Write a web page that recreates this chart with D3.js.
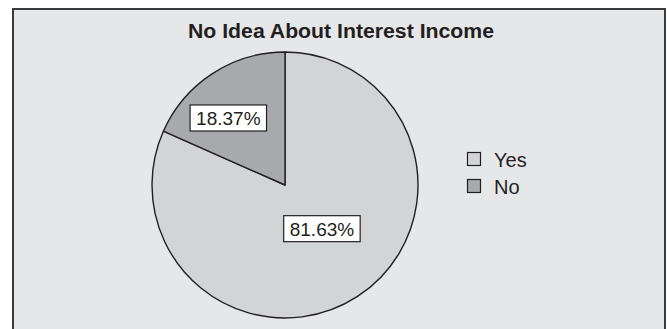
<!DOCTYPE html>
<html>
<head>
<meta charset="utf-8">
<script src="https://cdn.jsdelivr.net/npm/d3@7"></script>
<style>
  html, body { margin: 0; padding: 0; background: #ffffff; }
  svg { display: block; }
</style>
</head>
<body>
<svg id="chart" width="667" height="329"></svg>
<script>
// Survey answers
const categories = ["Yes", "No"];
const shares = [81.63, 18.37];
const sliceColors = ["#d3d4d6", "#a8a9ac"];
const chartTitle = "No Idea About Interest Income";

const W = 667, H = 329;
const svg = d3.select("#chart");

// Panel frame
svg.append("rect")
  .attr("x", 13).attr("y", 9)
  .attr("width", 652).attr("height", 330)
  .attr("fill", "#e6e7e9")
  .attr("stroke", "#3a3a3a")
  .attr("stroke-width", 2);

// Title
svg.append("text")
  .attr("x", 341).attr("y", 38)
  .attr("text-anchor", "middle")
  .attr("font-family", "Liberation Sans, Arial, sans-serif")
  .attr("font-weight", "bold")
  .attr("font-size", 20)
  .attr("textLength", 306)
  .attr("lengthAdjust", "spacingAndGlyphs")
  .attr("fill", "#231f20")
  .text(chartTitle);

// Pie
const cx = 285, cy = 185, R = 133;
const data = categories.map((c, i) => ({ cat: c, value: shares[i], color: sliceColors[i] }));
const pie = d3.pie().sort(null).value(d => d.value);
const arcs = pie(data);
const arc = d3.arc().innerRadius(0).outerRadius(R);

const g = svg.append("g").attr("transform", `translate(${cx},${cy})`);
g.selectAll("path.slice")
  .data(arcs)
  .join("path")
  .attr("class", "slice")
  .attr("d", arc)
  .attr("fill", d => d.data.color)
  .attr("stroke", "#231f20")
  .attr("stroke-width", 1.4)
  .attr("stroke-linejoin", "round");

// Value labels inside the slices, each in a white box
const labelRadius = [0.43, 0.66];
const labelTurn = -0.125;
const fmt = v => v.toFixed(2) + "%";
const labels = g.selectAll("g.lbl")
  .data(arcs)
  .join("g")
  .attr("class", "lbl")
  .attr("transform", (d, i) => {
    const a = (d.startAngle + d.endAngle) / 2 + labelTurn;
    const r = R * labelRadius[i];
    return `translate(${r * Math.sin(a)},${-r * Math.cos(a)})`;
  });

labels.each(function (d) {
  const sel = d3.select(this);
  const t = sel.append("text")
    .attr("text-anchor", "middle")
    .attr("dy", "0.36em")
    .attr("font-family", "Liberation Sans, Arial, sans-serif")
    .attr("font-size", 19)
    .attr("fill", "#231f20")
    .text(fmt(d.data.value));
  const w = t.node().getComputedTextLength();
  sel.insert("rect", "text")
    .attr("x", -w / 2 - 6).attr("y", -13)
    .attr("width", w + 12).attr("height", 26)
    .attr("fill", "#ffffff")
    .attr("stroke", "#231f20")
    .attr("stroke-width", 1.2);
});

// Legend
const legend = svg.append("g").attr("transform", "translate(467,152)");
const item = legend.selectAll("g")
  .data(data)
  .join("g")
  .attr("transform", (d, i) => `translate(0,${i * 27})`);
item.append("rect")
  .attr("x", 0.5).attr("y", 0.5)
  .attr("width", 13).attr("height", 13)
  .attr("fill", d => d.color)
  .attr("stroke", "#231f20")
  .attr("stroke-width", 1.2);
item.append("text")
  .attr("x", 27).attr("y", 14.5)
  .attr("font-family", "Liberation Sans, Arial, sans-serif")
  .attr("font-size", 20)
  .attr("fill", "#231f20")
  .text(d => d.cat);
</script>
</body>
</html>
